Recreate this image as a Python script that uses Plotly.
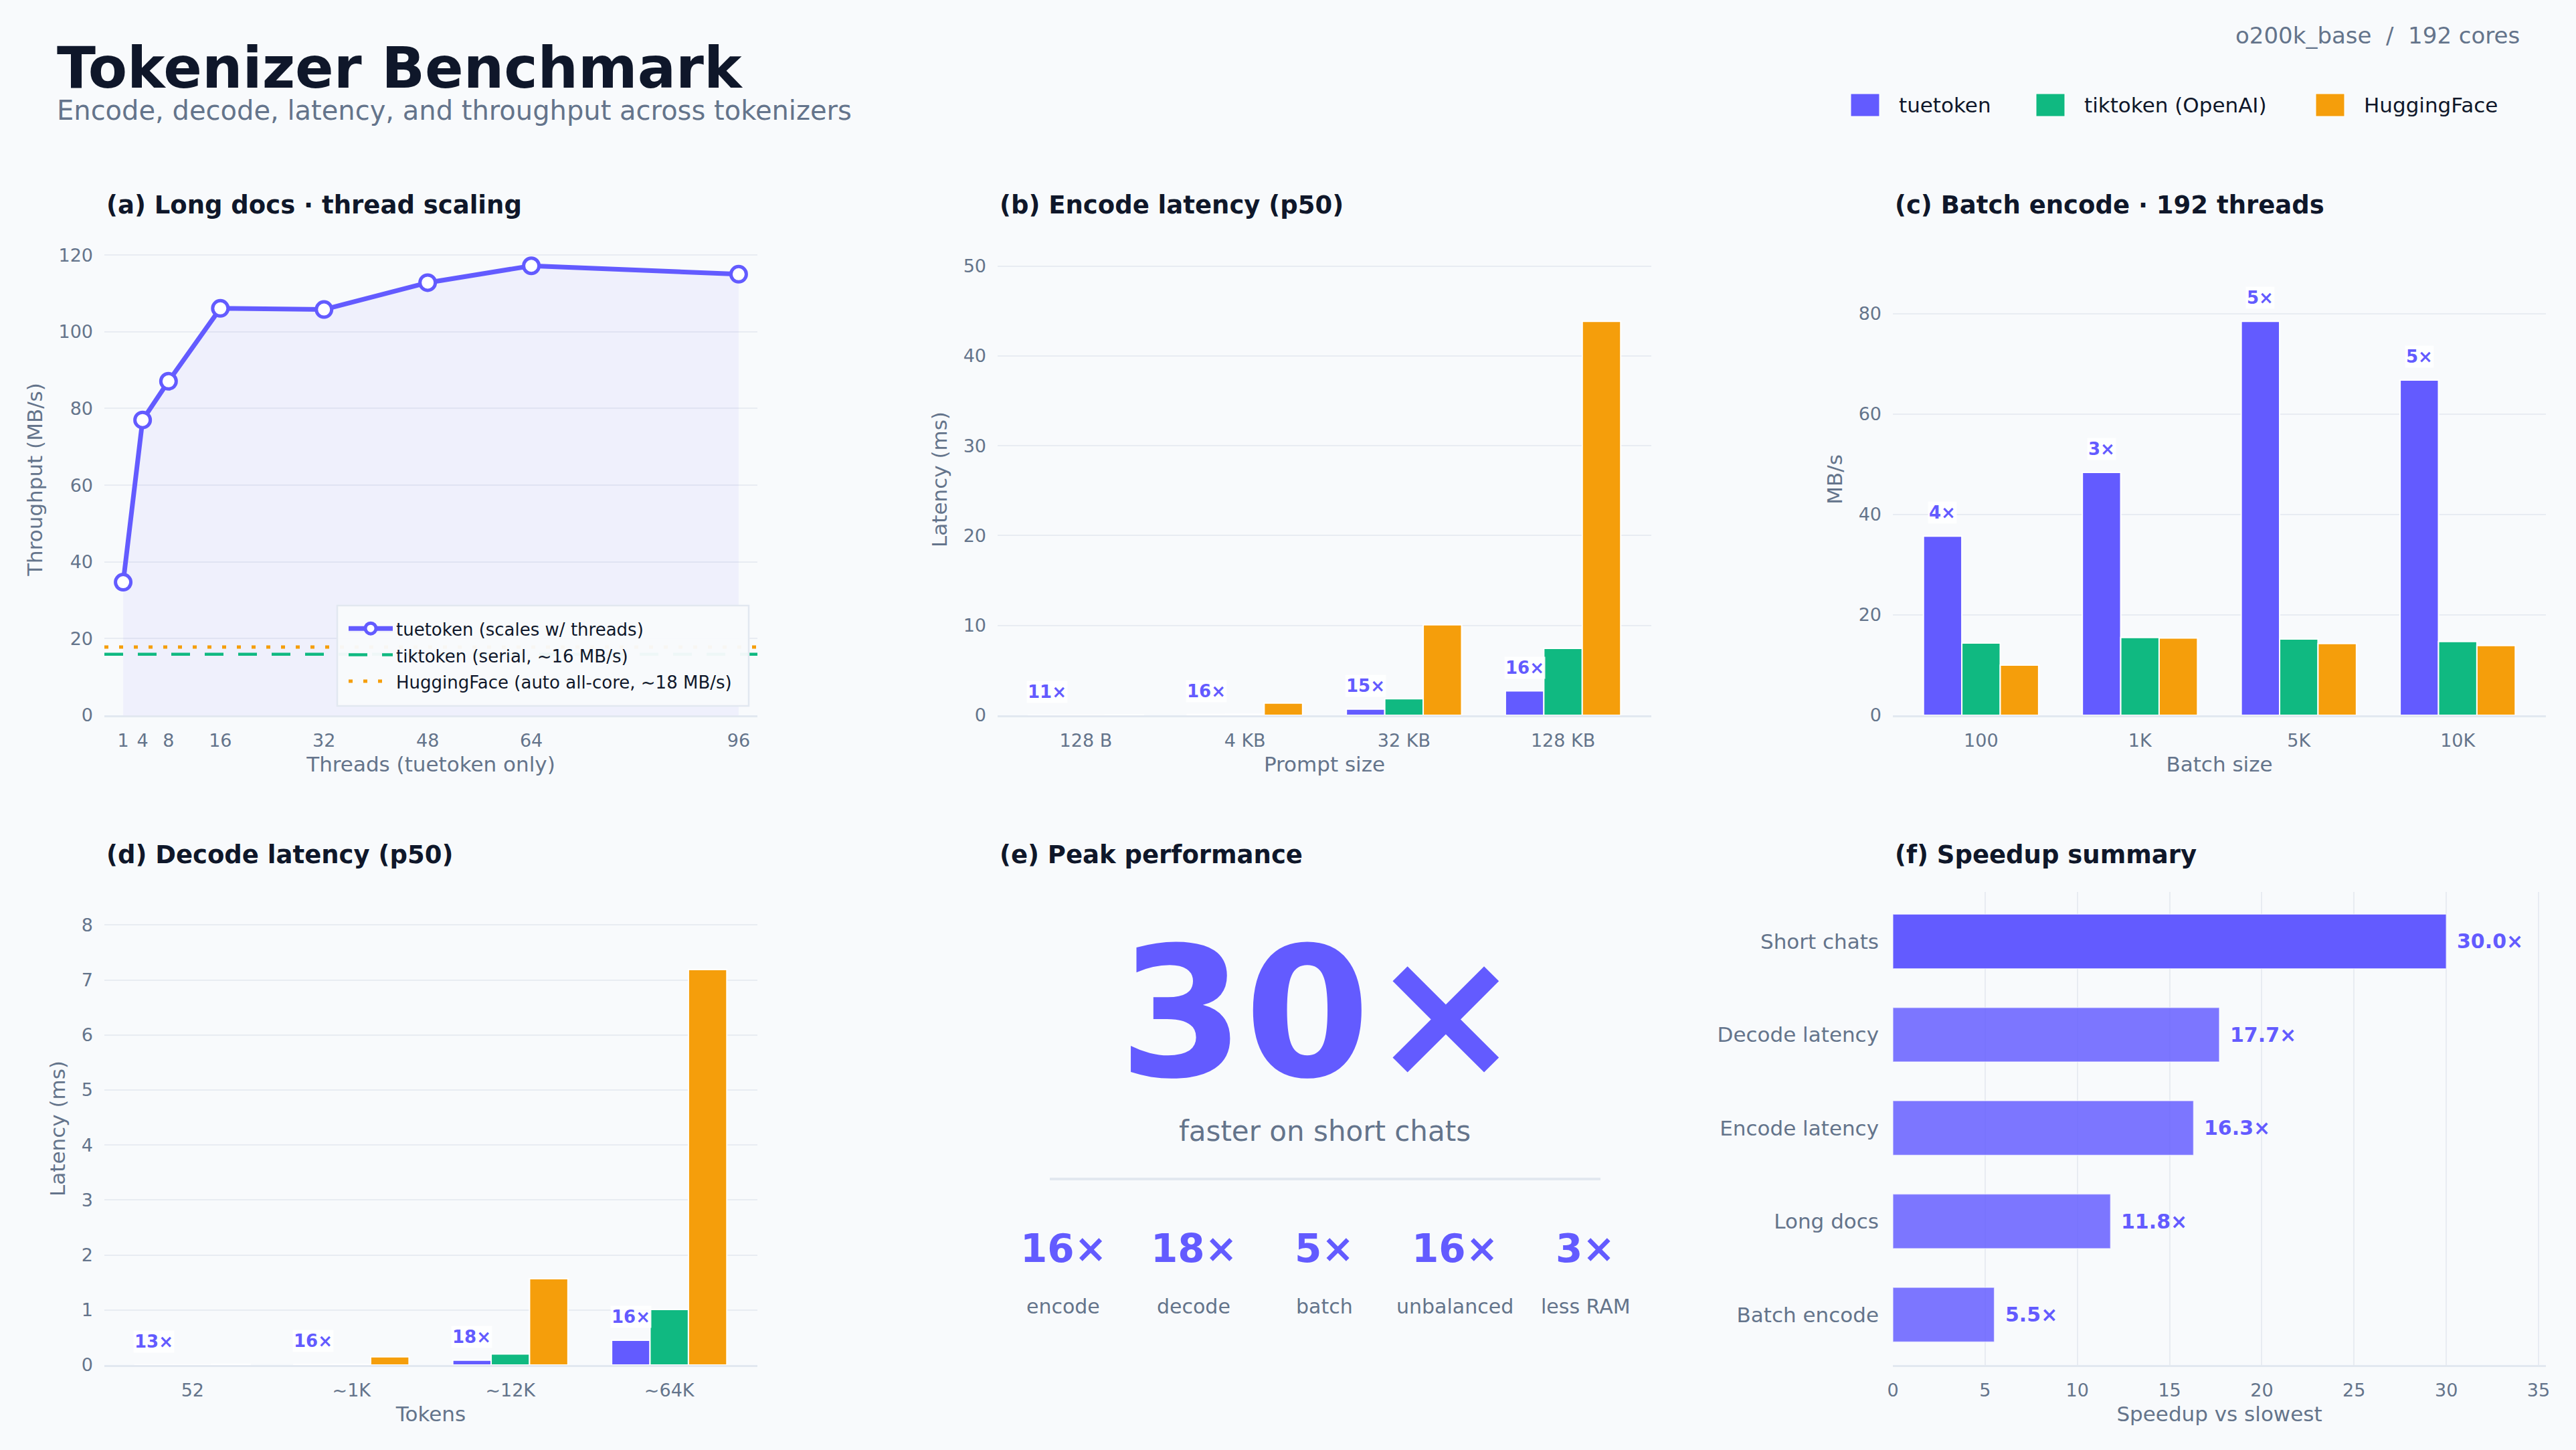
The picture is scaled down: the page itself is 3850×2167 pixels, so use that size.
import plotly.graph_objects as go

W, H = 3850, 2167

# ------------------------------------------------------------------ data
series_names = ["tuetoken", "tiktoken (OpenAI)", "HuggingFace"]

threads = [1, 4, 8, 16, 32, 48, 64, 96]
tuetoken_mbps = [34.7, 77.0, 87.1, 106.1, 105.8, 112.8, 117.2, 115.0]
tiktoken_serial_mbps = 15.9
hf_allcore_mbps = 17.8
long_doc_legend = ["tuetoken (scales w/ threads)", "tiktoken (serial, ~16 MB/s)",
                   "HuggingFace (auto all-core, ~18 MB/s)"]

prompt_sizes = ["128 B", "4 KB", "32 KB", "128 KB"]
enc_tuetoken = [0.004, 0.085, 0.68, 2.71]
enc_tiktoken = [0.012, 0.12, 1.85, 7.45]
enc_hf = [0.045, 1.36, 10.07, 43.85]
enc_speedup = ["11×", "16×", "15×", "16×"]

batch_sizes = ["100", "1K", "5K", "10K"]
batch_tuetoken = [35.7, 48.4, 78.5, 66.8]
batch_tiktoken = [14.4, 15.5, 15.2, 14.7]
batch_hf = [10.0, 15.4, 14.3, 13.9]
batch_speedup = ["4×", "3×", "5×", "5×"]

token_counts = ["52", "~1K", "~12K", "~64K"]
dec_tuetoken = [0.002, 0.009, 0.087, 0.45]
dec_tiktoken = [0.004, 0.012, 0.20, 1.01]
dec_hf = [0.013, 0.15, 1.57, 7.19]
dec_speedup = ["13×", "16×", "18×", "16×"]

peak_value = "30×"
peak_caption = "faster on short chats"
stat_values = ["16×", "18×", "5×", "16×", "3×"]
stat_labels = ["encode", "decode", "batch", "unbalanced", "less RAM"]

summary_cats = ["Short chats", "Decode latency", "Encode latency", "Long docs", "Batch encode"]
summary_speedup = [30.0, 17.7, 16.3, 11.8, 5.5]

# ------------------------------------------------------------------ style
FONT = "DejaVu Sans"
BG = "#F8FAFC"
INK = "#0F172A"
GRAY = "#64748B"
GRID = "#E8ECF2"
AXLINE = "#E2E8F0"
PURPLE = "#635BFF"
PURPLE_LIGHT = "rgba(99,91,255,0.83)"
GREEN = "#10B981"
ORANGE = "#F59E0B"
series_colors = [PURPLE, GREEN, ORANGE]

BARGAP = 0.275
CAT_RANGE = [-0.555, 3.555]
XA_RANGE = [-1.9, 98.9]

COL_X = [(156, 1132), (1491, 2468), (2829, 3805)]
ROW_Y = [(364, 1069), (1333, 2040)]


def dom_x(c):
    a, b = COL_X[c]
    return [a / W, b / W]


def dom_y(r):
    a, b = ROW_Y[r]
    return [1 - b / H, 1 - a / H]


def ann(text, x, y, size, color, xanchor="left", yanchor="middle", bold=False, **kw):
    t = f"<b>{text}</b>" if bold else text
    return dict(text=t, x=x / W, y=1 - y / H, xref="paper", yref="paper",
                xanchor=xanchor, yanchor=yanchor, showarrow=False,
                font=dict(family=FONT, size=size, color=color), **kw)


def legend_name(s):
    return f'<span style="font-size:26px">{s}</span>'


tickfont = dict(family=FONT, size=27, color=GRAY)
titlefont = dict(family=FONT, size=31, color=GRAY)

fig = go.Figure()

# ---------------------------------------------------------- (a) long docs
fig.add_trace(go.Scatter(
    x=threads, y=tuetoken_mbps, mode="lines+markers", name=legend_name(long_doc_legend[0]),
    line=dict(color=PURPLE, width=7),
    marker=dict(size=23, color="white", line=dict(color=PURPLE, width=5)),
    fill="tozeroy", fillcolor="rgba(99,91,255,0.06)",
    xaxis="x", yaxis="y", legendrank=1, hoverinfo="skip"))
fig.add_trace(go.Scatter(
    x=XA_RANGE, y=[tiktoken_serial_mbps] * 2, mode="lines",
    name=legend_name(long_doc_legend[1]),
    line=dict(color=GREEN, width=4.5, dash="28px,22px"),
    xaxis="x", yaxis="y", legendrank=2, hoverinfo="skip"))
fig.add_trace(go.Scatter(
    x=XA_RANGE, y=[hf_allcore_mbps] * 2, mode="lines",
    name=legend_name(long_doc_legend[2]),
    line=dict(color=ORANGE, width=5, dash="6px,16px"),
    xaxis="x", yaxis="y", legendrank=3, hoverinfo="skip"))

# ---------------------------------------------------------- grouped bars
annotations = []


def grouped(cats, vals_list, labels, xa, ya):
    for name, vals, col in zip(series_names, vals_list, series_colors):
        fig.add_trace(go.Bar(
            x=cats, y=vals, name=name, showlegend=False,
            marker=dict(color=col, line=dict(color="white", width=2)),
            xaxis=xa, yaxis=ya, hoverinfo="skip"))
    off = -(1 - BARGAP) / 3
    for i, (lab, v) in enumerate(zip(labels, vals_list[0])):
        annotations.append(dict(
            text=f"<b>{lab}</b>", x=i + off, y=v, xref=xa, yref=ya,
            yshift=35, showarrow=False, xanchor="center", yanchor="middle",
            bgcolor="rgba(255,255,255,0.85)", borderpad=1,
            font=dict(family=FONT, size=26, color=PURPLE)))


grouped(prompt_sizes, [enc_tuetoken, enc_tiktoken, enc_hf], enc_speedup, "x2", "y2")
grouped(batch_sizes, [batch_tuetoken, batch_tiktoken, batch_hf], batch_speedup, "x3", "y3")
grouped(token_counts, [dec_tuetoken, dec_tiktoken, dec_hf], dec_speedup, "x4", "y4")

# ---------------------------------------------------------- (f) summary
top = max(summary_speedup)
fig.add_trace(go.Bar(
    x=summary_speedup, y=summary_cats, orientation="h", width=0.584,
    marker=dict(color=[PURPLE if v == top else PURPLE_LIGHT for v in summary_speedup],
                line=dict(color="rgba(255,255,255,0.6)", width=1.5)),
    xaxis="x5", yaxis="y5", showlegend=False, hoverinfo="skip"))
for c, v in zip(summary_cats, summary_speedup):
    annotations.append(dict(
        text=f"<b>{v:.1f}×</b>", x=v, y=c, xref="x5", yref="y5", xanchor="left",
        yanchor="middle", xshift=14, showarrow=False,
        font=dict(family=FONT, size=30, color=PURPLE)))

# ---------------------------------------------------------- axes
def yax(r, c, rng, dtick, title, anchor):
    return dict(domain=dom_y(r), range=rng, dtick=dtick, showgrid=True, gridcolor=GRID,
                gridwidth=2, zeroline=False, showline=False, ticks="", automargin=False,
                tickfont=tickfont, ticklabelstandoff=16, anchor=anchor,
                title=dict(text=title, font=titlefont, standoff=14))


def xcat(r, c, title, anchor):
    return dict(domain=dom_x(c), type="category", range=CAT_RANGE, showgrid=False,
                zeroline=False, showline=True, linecolor=AXLINE, linewidth=3, ticks="",
                automargin=False, tickfont=tickfont, ticklabelstandoff=12, anchor=anchor,
                title=dict(text=title, font=titlefont, standoff=10))


layout = dict(
    width=W, height=H, autosize=False,
    margin=dict(l=0, r=0, t=0, b=0, pad=0, autoexpand=False),
    paper_bgcolor=BG, plot_bgcolor=BG,
    font=dict(family=FONT, color=GRAY),
    barmode="group", bargap=BARGAP, bargroupgap=0,
    showlegend=True,
    legend=dict(x=516 / W, y=1 - 979 / H, xanchor="left", yanchor="middle",
                bgcolor="rgba(0,0,0,0)", borderwidth=0,
                font=dict(family=FONT, size=28, color=INK), itemwidth=66,
                tracegroupgap=0),
    xaxis=dict(domain=dom_x(0), range=XA_RANGE, tickvals=threads, showgrid=False,
               zeroline=False, showline=True, linecolor=AXLINE, linewidth=3, ticks="",
               automargin=False, tickfont=tickfont, ticklabelstandoff=12, anchor="y",
               title=dict(text="Threads (tuetoken only)", font=titlefont, standoff=10)),
    yaxis=yax(0, 0, [0, 123], 20, "Throughput (MB/s)", "x"),
    xaxis2=xcat(0, 1, "Prompt size", "y2"),
    yaxis2=yax(0, 1, [0, 52.5], 10, "Latency (ms)", "x2"),
    xaxis3=xcat(0, 2, "Batch size", "y3"),
    yaxis3=yax(0, 2, [0, 94], 20, "MB/s", "x3"),
    xaxis4=xcat(1, 0, "Tokens", "y4"),
    yaxis4=yax(1, 0, [0, 8.6], 1, "Latency (ms)", "x4"),
    xaxis5=dict(domain=dom_x(2), range=[0, 35.4], dtick=5, showgrid=True, gridcolor=GRID,
                gridwidth=2, zeroline=False, showline=True, linecolor=AXLINE, linewidth=3,
                ticks="", automargin=False, tickfont=tickfont, ticklabelstandoff=12,
                anchor="y5",
                title=dict(text="Speedup vs slowest", font=titlefont, standoff=10)),
    yaxis5=dict(domain=dom_y(1), type="category", range=[4.54, -0.53], showgrid=False,
                zeroline=False, showline=False, ticks="", ticklabelstandoff=20,
                automargin=False,
                tickfont=dict(family=FONT, size=31, color=GRAY), anchor="x5"),
)

# ---------------------------------------------------------- header & texts
annotations += [
    ann("Tokenizer Benchmark", 83, 102, 85, INK, bold=True),
    ann("Encode, decode, latency, and throughput across tokenizers", 83, 165, 40, GRAY),
    ann("o200k_base  /  192 cores", 3768, 53, 34, GRAY, xanchor="right"),
]

shapes = []
# frame behind the (a) legend
shapes.append(dict(type="rect", xref="paper", yref="paper", layer="above",
                   x0=504 / W, x1=1119 / W, y0=1 - 1055 / H, y1=1 - 905 / H,
                   fillcolor="rgba(248,250,252,0.96)", line=dict(color=AXLINE, width=2.5)))

legend_x = [2766, 3043, 3461]
for name, col, lx in zip(series_names, series_colors, legend_x):
    shapes.append(dict(type="rect", xref="paper", yref="paper",
                       x0=lx / W, x1=(lx + 43) / W, y0=1 - 174 / H, y1=1 - 140 / H,
                       fillcolor=col, line=dict(color="white", width=1)))
    annotations.append(ann(name, lx + 70, 157, 31, INK))

panel_titles = ["(a) Long docs · thread scaling", "(b) Encode latency (p50)",
                "(c) Batch encode · 192 threads", "(d) Decode latency (p50)",
                "(e) Peak performance", "(f) Speedup summary"]
title_y = [307, 1277]
for k, t in enumerate(panel_titles):
    r, c = divmod(k, 3)
    annotations.append(ann(t, COL_X[c][0] + 1, title_y[r], 37, INK, bold=True))

# ---------------------------------------------------------- (e) peak panel
cx = (COL_X[1][0] + COL_X[1][1]) / 2
annotations.append(ann(peak_value, cx - 7, 1514, 270, PURPLE, xanchor="center", bold=True))
annotations.append(ann(peak_caption, cx, 1690, 42, GRAY, xanchor="center"))
shapes.append(dict(type="line", xref="paper", yref="paper",
                   x0=1569 / W, x1=2392 / W, y0=1 - 1762 / H, y1=1 - 1762 / H,
                   line=dict(color=AXLINE, width=4)))
step = 195.2
for i, (v, lab) in enumerate(zip(stat_values, stat_labels)):
    sx = cx + (i - 2) * step
    annotations.append(ann(v, sx, 1866, 58, PURPLE, xanchor="center", bold=True))
    annotations.append(ann(lab, sx, 1952, 30, GRAY, xanchor="center"))

layout["annotations"] = annotations
layout["shapes"] = shapes
fig.update_layout(**layout)

fig.write_html("out.html", config={"displayModeBar": False})
